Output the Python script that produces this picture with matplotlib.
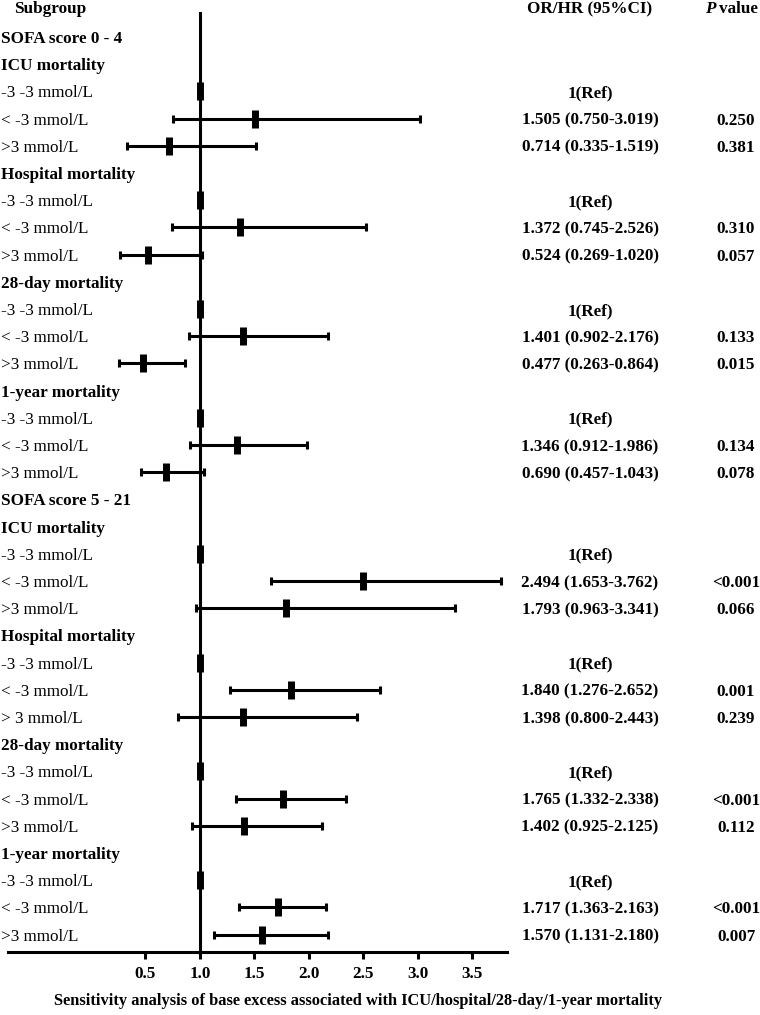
import matplotlib
matplotlib.use('Agg')
import matplotlib.pyplot as plt
import matplotlib.transforms as mtransforms

plt.rcParams['font.family'] = 'Liberation Serif'
plt.rcParams['font.size'] = 12.3

# ---- data ----
sofa_groups = ['SOFA score 0 - 4', 'SOFA score 5 - 21']
outcomes = ['ICU mortality', 'Hospital mortality', '28-day mortality', '1-year mortality']
ref_label = '-3 -3 mmol/L'
low_label = '< -3 mmol/L'
high_labels = ['>3 mmol/L', '>3 mmol/L', '>3 mmol/L', '>3 mmol/L',
               '>3 mmol/L', '> 3 mmol/L', '>3 mmol/L', '>3 mmol/L']

# order: (sofa group, outcome, [< -3, >3])
est = [1.505, 0.714, 1.372, 0.524, 1.401, 0.477, 1.346, 0.690,
       2.494, 1.793, 1.840, 1.398, 1.765, 1.402, 1.717, 1.570]
ci_lo = [0.750, 0.335, 0.745, 0.269, 0.902, 0.263, 0.912, 0.457,
         1.653, 0.963, 1.276, 0.800, 1.332, 0.925, 1.363, 1.131]
ci_hi = [3.019, 1.519, 2.526, 1.020, 2.176, 0.864, 1.986, 1.043,
         3.762, 3.341, 2.652, 2.443, 2.338, 2.125, 2.163, 2.180]
pvals = ['0.250', '0.381', '0.310', '0.057', '0.133', '0.015', '0.134', '0.078',
         '<0.001', '0.066', '0.001', '0.239', '<0.001', '0.112', '<0.001', '0.007']

xticks = [0.5, 1.0, 1.5, 2.0, 2.5, 3.0, 3.5]
title = 'Sensitivity analysis of base excess associated with ICU/hospital/28-day/1-year mortality'

# ---- figure ----
W, H = 760, 1015
fig = plt.figure(figsize=(W / 100, H / 100), dpi=100)
ax = fig.add_axes([8 / W, 1 - 952 / H, 499 / W, 940 / H])
ax.set_xlim(-0.76, 3.82)
ax.set_ylim(34.64, 0.081)

for s in ['left', 'top', 'right']:
    ax.spines[s].set_visible(False)
ax.spines['bottom'].set_linewidth(2.2)
ax.set_yticks([])
ax.set_xticks(xticks)
ax.set_xticklabels(['%.1f' % t for t in xticks], fontweight='bold')
ax.tick_params(axis='x', length=5, width=2.2, pad=5)
ax.axvline(1, color='black', lw=2.2, zorder=1)

trans = mtransforms.blended_transform_factory(fig.transFigure, ax.transData)
x_lab = 1 / W
x_or = 590 / W
x_p = 736 / W

def box(x, y):
    ax.plot([x], [y], marker='|', ms=13, mew=5, color='black', zorder=3)

row = 1
k = 0
for g, grp in enumerate(sofa_groups):
    ax.text(x_lab, row, grp, transform=trans, ha='left', va='center_baseline', fontweight='bold')
    row += 1
    for o, out in enumerate(outcomes):
        ax.text(x_lab, row, out, transform=trans, ha='left', va='center_baseline', fontweight='bold')
        row += 1
        # reference row
        ax.text(x_lab, row, ref_label, transform=trans, ha='left', va='center_baseline')
        ax.text(x_or, row, '1(Ref)', transform=trans, ha='center', va='center_baseline', fontweight='bold')
        box(1.0, row)
        row += 1
        for lab in [low_label, high_labels[g * 4 + o]]:
            ax.text(x_lab, row, lab, transform=trans, ha='left', va='center_baseline')
            ax.errorbar(est[k], row, xerr=[[est[k] - ci_lo[k]], [ci_hi[k] - est[k]]],
                        fmt='none', ecolor='black', elinewidth=2.2, capsize=2.9, capthick=2.2, zorder=2)
            box(est[k], row)
            ax.text(x_or, row, '%.3f (%.3f-%.3f)' % (est[k], ci_lo[k], ci_hi[k]),
                    transform=trans, ha='center', va='center_baseline', fontweight='bold')
            ax.text(x_p, row, pvals[k], transform=trans, ha='center', va='center_baseline', fontweight='bold')
            row += 1
            k += 1

# column headers
hy = -0.1
ax.text(14 / W, hy, 'Subgroup', transform=trans, ha='left', va='center_baseline', fontweight='bold')
ax.text(x_or, hy, 'OR/HR (95%CI)', transform=trans, ha='center', va='center_baseline', fontweight='bold')
ax.text(705 / W, hy, 'P', transform=trans, ha='left', va='center_baseline', fontweight='bold', style='italic')
ax.text(719 / W, hy, 'value', transform=trans, ha='left', va='center_baseline', fontweight='bold')

fig.text(358 / W, 1 - 1001 / H, title, ha='center', va='center', fontweight='bold', fontsize=11.8)

fig.savefig('out.png', dpi=100)
